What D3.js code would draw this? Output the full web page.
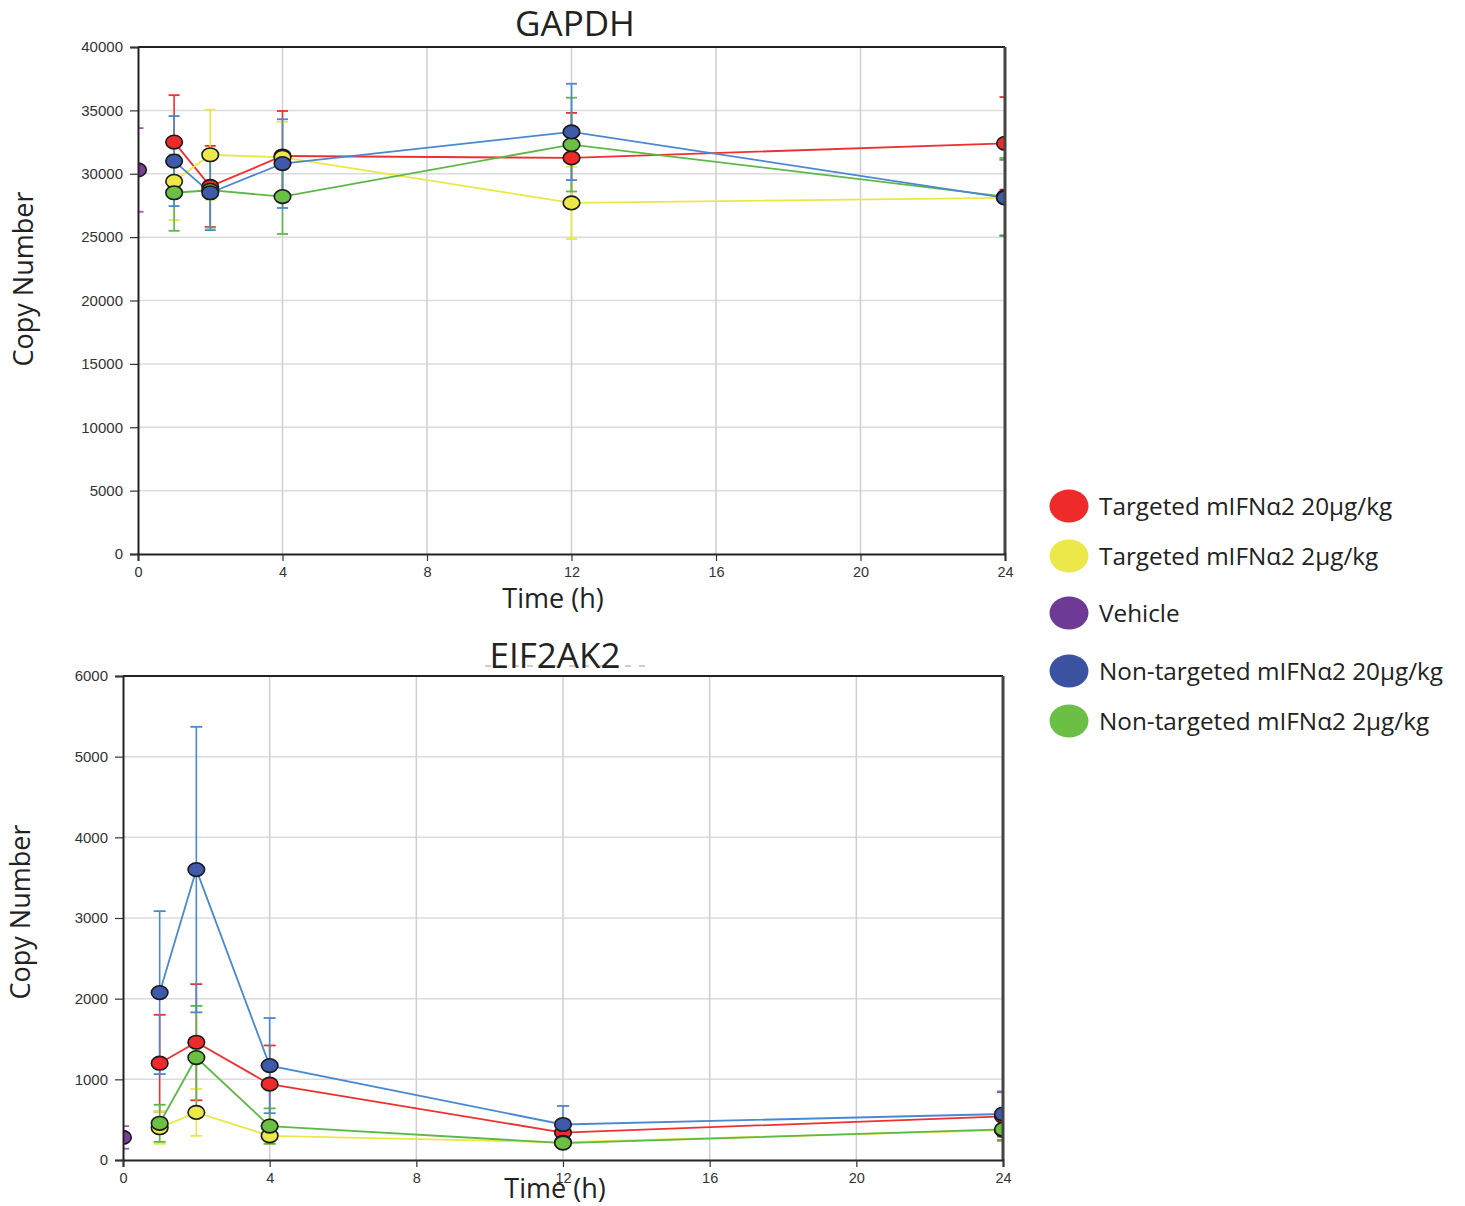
<!DOCTYPE html>
<html><head><meta charset="utf-8">
<script src="https://cdnjs.cloudflare.com/ajax/libs/d3/7.8.5/d3.min.js"></script>
<style>body{margin:0;background:#fff}svg{display:block}</style>
</head><body>
<svg id="c" width="1465" height="1206"></svg>
<script>
// ---------- data ----------
const times = [1, 2, 4, 12, 24];
const vehicleTime = [0];
const xTicks = [0, 4, 8, 12, 16, 20, 24];

const seriesNames = ["Targeted mIFNα2 20μg/kg", "Targeted mIFNα2 2μg/kg", "Vehicle",
  "Non-targeted mIFNα2 20μg/kg", "Non-targeted mIFNα2 2μg/kg"];

// GAPDH
const gapdhYTicks = [0, 5000, 10000, 15000, 20000, 25000, 30000, 35000, 40000];
const gapdhVehicle = [30300], gapdhVehicleSD = [3300];
const gapdhT20 = [32500, 29000, 31400, 31250, 32400], gapdhT20SD = [3700, 3200, 3550, 3550, 3650];
const gapdhT2 = [29400, 31500, 31300, 27700, 28100], gapdhT2SD = [3050, 3550, 2800, 2850, 3000];
const gapdhN2 = [28500, 28700, 28200, 32300, 28200], gapdhN2SD = [3000, 2950, 2950, 3700, 3050];
const gapdhN20 = [31000, 28500, 30800, 33300, 28100], gapdhN20SD = [3550, 2950, 3500, 3800, 3000];

// EIF2AK2
const eifYTicks = [0, 1000, 2000, 3000, 4000, 5000, 6000];
const eifVehicle = [280], eifVehicleSD = [140];
const eifT20 = [1200, 1460, 940, 340, 540], eifT20SD = [600, 720, 480, 60, 300];
const eifT2 = [400, 590, 300, 220, 370], eifT2SD = [200, 290, 95, 40, 80];
const eifN2 = [455, 1270, 420, 210, 380], eifN2SD = [230, 640, 220, 40, 130];
const eifN20 = [2075, 3600, 1170, 440, 570], eifN20SD = [1010, 1770, 590, 230, 280];

// ---------- styles ----------
const markerFill = {t20: "#ee2a2a", t2: "#ece84a", veh: "#7b3f98", n20: "#3f5aa8", n2: "#6cbf45"};
const lineColor = {t20: "#ee3030", t2: "#ece843", veh: "#a657b8", n20: "#4a88d0", n2: "#5cb947"};
const legendFill = ["#ee2a2a", "#ece84a", "#6d3a96", "#3b52a0", "#6cbf45"];

const svg = d3.select("#c");
const titleFont = "'Open Sans', sans-serif";
const tickFont = "'Liberation Sans', Arial, sans-serif";

function drawChart(cfg) {
  const {x0, x1, y0, y1, yMax, yTicks, title, titleX, titleY, xLabelY, xLabelX, yLabelX, yLabelY, series, vehicle, id, capW} = cfg;
  const x = d3.scaleLinear().domain([0, 24]).range([x0, x1]);
  const y = d3.scaleLinear().domain([0, yMax]).range([y1, y0]);
  const g = svg.append("g");

  // gridlines
  g.append("g").selectAll("line").data(yTicks.filter(t => t > 0 && t < yMax)).join("line")
    .attr("x1", x0).attr("x2", x1).attr("y1", d => y(d)).attr("y2", d => y(d))
    .attr("stroke", "#dcdcdc").attr("stroke-width", 1.5);
  g.append("g").selectAll("line").data(xTicks.filter(t => t > 0 && t < 24)).join("line")
    .attr("x1", d => x(d)).attr("x2", d => x(d)).attr("y1", y0).attr("y2", y1)
    .attr("stroke", "#cfcfcf").attr("stroke-width", 1.5);

  // clip
  svg.append("clipPath").attr("id", id).append("rect")
    .attr("x", x0).attr("y", y0 - 60).attr("width", x1 - x0).attr("height", y1 - y0 + 60);
  const data = g.append("g").attr("clip-path", `url(#${id})`);

  const drawErr = (gg, xs, ms, sds, col) => {
    xs.forEach((t, i) => {
      const cx = x(t), lo = y(ms[i] - sds[i]), hi = y(ms[i] + sds[i]);
      gg.append("line").attr("x1", cx).attr("x2", cx).attr("y1", lo).attr("y2", hi).attr("stroke", col).attr("stroke-width", 1.6);
      [lo, hi].forEach(yy => gg.append("line").attr("x1", cx - capW / 2).attr("x2", cx + capW / 2)
        .attr("y1", yy).attr("y2", yy).attr("stroke", col).attr("stroke-width", 1.8));
    });
  };
  const line = d3.line().x(d => x(d[0])).y(d => y(d[1]));

  drawErr(data, vehicleTime, vehicle.m, vehicle.sd, lineColor.veh);
  series.forEach(s => drawErr(data, times, s.m, s.sd, lineColor[s.key]));
  const drawMarkers = (xs, ms, key) => {
    data.append("g").selectAll("ellipse").data(xs.map((t, i) => [t, ms[i]])).join("ellipse")
      .attr("cx", d => x(d[0])).attr("cy", d => y(d[1])).attr("rx", 8.3).attr("ry", 6.8)
      .attr("fill", markerFill[key]).attr("stroke", "#1a1a1a").attr("stroke-width", 1.6);
  };
  drawMarkers(vehicleTime, vehicle.m, "veh");
  series.forEach(s => {
    data.append("path").datum(times.map((t, i) => [t, s.m[i]])).attr("d", line)
      .attr("fill", "none").attr("stroke", lineColor[s.key]).attr("stroke-width", 1.8);
  });
  series.forEach(s => drawMarkers(times, s.m, s.key));

  // frame top & right (over data)
  g.append("line").attr("x1", x0).attr("x2", x1).attr("y1", y0).attr("y2", y0).attr("stroke", "#222").attr("stroke-width", 2);
  g.append("line").attr("x1", x1).attr("x2", x1).attr("y1", y0).attr("y2", y1).attr("stroke", "#444").attr("stroke-width", 3);

  // axes (over data)
  const ya = g.append("g").attr("transform", `translate(${x0},0)`)
    .call(d3.axisLeft(y).tickValues(yTicks).tickFormat(d3.format("d")).tickSize(8).tickPadding(7));
  ya.select(".domain").attr("stroke", "#222").attr("stroke-width", 2);
  ya.selectAll(".tick line").attr("stroke", "#333").attr("stroke-width", 1.2);
  ya.selectAll("text").attr("font-family", tickFont).attr("font-size", 15).attr("fill", "#333");

  const xa = g.append("g").attr("transform", `translate(0,${y1})`)
    .call(d3.axisBottom(x).tickValues(xTicks).tickFormat(d3.format("d")).tickSize(7).tickPadding(6));
  xa.select(".domain").attr("stroke", "#222").attr("stroke-width", 2);
  xa.selectAll(".tick line").attr("stroke", "#333").attr("stroke-width", 1.2);
  xa.selectAll("text").attr("font-family", tickFont).attr("font-size", 14.5).attr("fill", "#333");

  // titles
  svg.append("text").attr("x", titleX).attr("y", titleY).attr("text-anchor", "middle")
    .attr("font-family", titleFont).attr("font-size", 35).attr("fill", "#222").text(title);
  svg.append("text").attr("x", xLabelX).attr("y", xLabelY).attr("text-anchor", "middle")
    .attr("font-family", titleFont).attr("font-size", 27).attr("fill", "#222").text("Time (h)");
  svg.append("text").attr("transform", `translate(${yLabelX},${yLabelY}) rotate(-90)`).attr("text-anchor", "middle")
    .attr("font-family", titleFont).attr("font-size", 27).attr("fill", "#222").text("Copy Number");
}

drawChart({
  id: "clipA", x0: 138, x1: 1005, y0: 47, y1: 554, yMax: 40000, yTicks: gapdhYTicks,
  title: "GAPDH", titleX: 575, titleY: 36, xLabelX: 553, xLabelY: 608, yLabelX: 33, yLabelY: 279, capW: 11,
  vehicle: {m: gapdhVehicle, sd: gapdhVehicleSD},
  series: [
    {key: "t20", m: gapdhT20, sd: gapdhT20SD},
    {key: "t2", m: gapdhT2, sd: gapdhT2SD},
    {key: "n2", m: gapdhN2, sd: gapdhN2SD},
    {key: "n20", m: gapdhN20, sd: gapdhN20SD}
  ]
});

// faint dashed artefact behind second title
svg.append("line").attr("x1", 485).attr("x2", 645).attr("y1", 666).attr("y2", 666)
  .attr("stroke", "#9a9a9a").attr("stroke-width", 1).attr("stroke-dasharray", "6,8");

drawChart({
  id: "clipB", x0: 123, x1: 1003, y0: 676, y1: 1160, yMax: 6000, yTicks: eifYTicks,
  title: "EIF2AK2", titleX: 555, titleY: 668, xLabelX: 555, xLabelY: 1198, yLabelX: 30, yLabelY: 912, capW: 12,
  vehicle: {m: eifVehicle, sd: eifVehicleSD},
  series: [
    {key: "t20", m: eifT20, sd: eifT20SD},
    {key: "t2", m: eifT2, sd: eifT2SD},
    {key: "n2", m: eifN2, sd: eifN2SD},
    {key: "n20", m: eifN20, sd: eifN20SD}
  ]
});

// legend
const legendY = [506, 556, 613, 671, 721];
const lg = svg.append("g");
lg.selectAll("ellipse").data(seriesNames).join("ellipse")
  .attr("cx", 1069).attr("cy", (d, i) => legendY[i]).attr("rx", 19.5).attr("ry", 16.5)
  .attr("fill", (d, i) => legendFill[i]);
lg.selectAll("text").data(seriesNames).join("text")
  .attr("x", 1099).attr("y", (d, i) => legendY[i] + 8.5)
  .attr("font-family", titleFont).attr("font-size", 24.3).attr("fill", "#222").text(d => d);
</script>
</body></html>
